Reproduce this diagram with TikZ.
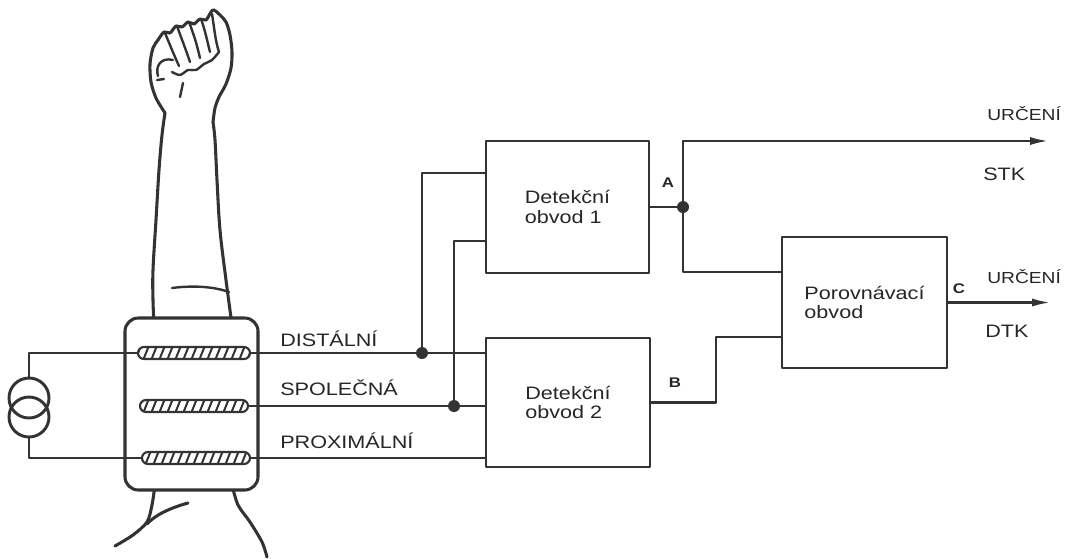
\documentclass[tikz,border=0pt]{standalone}
\usepackage{fontspec}
\setmainfont[FakeStretch=1.2]{Liberation Sans}
\usetikzlibrary{arrows.meta,calc}
\begin{document}
\begin{tikzpicture}[x=0.75pt,y=-0.75pt,
  ink/.style={draw=black!80, line width=2.2pt, line cap=round, line join=round},
  armline/.style={draw=black!80, line width=2.3pt, line cap=round, line join=round},
  wire/.style={ink},
  blk/.style={ink, rectangle, inner sep=0pt, fill=white, align=left, text=black!85,
    font=\fontsize{13.5}{14.5}\selectfont},
  lbl/.style={inner sep=0pt, anchor=base west, text=black!85, font=\fontsize{13.5}{15}\selectfont},
  lblsm/.style={lbl, font=\fontsize{12}{14}\selectfont},
  pin/.style={inner sep=0pt, text=black!85, font=\bfseries\fontsize{10.5}{12}\selectfont},
  dot/.style={circle, fill=black!80, inner sep=0pt, minimum size=9pt},
  elec/.style={draw=black!80, line width=1.6pt, rectangle, rounded corners=4.5pt,
    minimum width=84pt, minimum height=9pt, inner sep=0pt, fill=white,
    path picture={\foreach \k in {-7,...,7}{\draw[line width=1.5pt, black!80]
      ($(path picture bounding box.center)+(\k*6pt-2pt,-5pt)$) -- ++(4pt,10pt);}}},
  src/.style={circle, draw=black!80, line width=2.2pt, minimum size=30pt, inner sep=0pt},
  tip/.style={-{Latex[length=15pt,width=6pt]}}
]
\useasboundingbox (0,0) rectangle (1067,558);

% ---------------- arm ----------------
\draw[armline] plot[smooth, tension=0.6] coordinates {(165,113) (162,135) (159,170) (156,220) (153,270) (153,300) (154,325)};
\draw[armline] plot[smooth, tension=0.6] coordinates {(213,122) (215,140) (217,180) (220,230) (226,280) (232,325)};
\draw[armline] plot[smooth, tension=0.5] coordinates {(165,113) (156,98) (151,82) (150,64) (153,48) (158,40) (164,32) (170,33) (176,26) (182,27) (188,22) (194,24) (200,19) (206,20) (211,12) (214,10) (220,15) (226,22) (230,35) (232,52) (231,68) (226,84) (219,97) (215,108) (213,122)};
\draw[armline, line width=1.8pt] (165,33) .. controls (170,45) and (174,55) .. (179,66);
\draw[armline, line width=1.8pt] (177,26) .. controls (182,40) and (186,50) .. (190,62);
\draw[armline, line width=1.8pt] (189,22) .. controls (194,35) and (197,45) .. (200,58);
\draw[armline, line width=1.8pt] (201,19) .. controls (205,30) and (207,40) .. (210,52);
\draw[armline, line width=1.8pt] plot[smooth] coordinates {(172,72) (180,75) (188,70) (196,70) (204,64) (212,60) (219,52)};
\draw[armline, line width=1.8pt] (212,14) .. controls (214,25) and (215,40) .. (219,52);
\draw[armline, line width=1.8pt] (173,60) .. controls (161,57) and (155,66) .. (158,76);
\draw[armline, line width=1.8pt] (157,80) -- (164,79);
\draw[armline, line width=1.8pt] (180,97) -- (183,83);
\draw[armline, line width=1.8pt] (172,288) .. controls (195,285) and (215,287) .. (229,292);
% lower hand
\draw[armline] plot[smooth] coordinates {(155,485) (152,505) (147,522) (133,535) (115,546)};
\draw[armline] (188,503) .. controls (170,508) and (155,515) .. (147,524);
\draw[armline] plot[smooth] coordinates {(232,485) (238,505) (250,522) (262,542) (267,557)};

% ---------------- cuff & electrodes ----------------
\node[draw=black!80, line width=2.3pt, rounded corners=10pt, fill=white,
      minimum width=99.75pt, minimum height=129pt, inner sep=0pt] (cuff) at (191.5,404) {};
\node[elec] (e1) at (194,353) {};
\node[elec, minimum width=81pt] (e2) at (194,406) {};
\node[elec, minimum width=81pt] (e3) at (196,458) {};

% ---------------- current source ----------------
\node[src] (src1) at (29,398) {};
\node[src] (src2) at (29,417) {};
\draw[wire] (src1.north) |- (e1.west);
\draw[wire] (src2.south) |- (e3.west);

% ---------------- blocks ----------------
\node[blk, minimum width=122.25pt, minimum height=99pt] (det1) at (567.5,207) {Detekční\\obvod 1};
\node[blk, minimum width=123pt, minimum height=96.75pt] (det2) at (568,402.5) {Detekční\\obvod 2};
\node[blk, minimum width=123.75pt, minimum height=98.25pt] (comp) at (864.5,302.5) {Porovnávací\\obvod};

% ---------------- electrode lines ----------------
\node[dot] (d1) at (422,353) {};
\node[dot] (d2) at (454,406) {};
\draw[wire] (e1.east) -- (e1.east -| det2.west);
\draw[wire] (e2.east) -- (e2.east -| det2.west);
\draw[wire] (e3.east) -- (e3.east -| det2.west);
\coordinate (t1) at (det1.west |- 0,173);
\coordinate (t2) at (det1.west |- 0,241);
\draw[wire] (d1.center) |- (t1);
\draw[wire] (d2.center) |- (t2);

% ---------------- outputs ----------------
\node[dot] (dA) at (683,207) {};
\coordinate (stkend) at (1050,141);
\coordinate (cin1) at (comp.west |- 0,272);
\coordinate (cin2) at (comp.west |- 0,337);
\coordinate (dtkend) at (1052,302.5);
\draw[wire] (det1.east) -- (dA.center);
\draw[wire, tip] (dA.center) |- (stkend);
\draw[wire] (dA.center) |- (cin1);
\draw[wire] (det2.east) -| ($(det2.east)!.5!(cin2)$) |- (cin2);
\draw[wire, tip] (comp.east) -- (dtkend);

% ---------------- labels ----------------
\node[lbl] (ldist) at (280,346) {DISTÁLNÍ};
\node[lbl] (lspol) at (280,395) {SPOLEČNÁ};
\node[lbl] (lprox) at (280,448) {PROXIMÁLNÍ};
\node[lblsm] (lu1) at (987,120) {URČENÍ};
\node[lbl] (lstk) at (983,180) {STK};
\node[lblsm] (lu2) at (987,283) {URČENÍ};
\node[lbl] (ldtk) at (985,337) {DTK};
\node[pin] (pA) at (668,183) {A};
\node[pin] (pB) at (675,383) {B};
\node[pin] (pC) at (959,289) {C};
\end{tikzpicture}
\end{document}
